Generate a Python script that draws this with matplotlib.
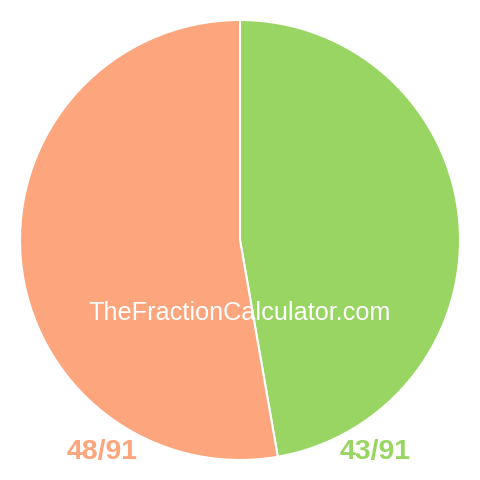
import matplotlib.pyplot as plt

fractions = ["43/91", "48/91"]
counts = [43, 48]
colors = ["#99d562", "#fda57c"]

plt.rcParams['font.family'] = ['Liberation Sans', 'DejaVu Sans']

fig = plt.figure(figsize=(4.8, 4.8), dpi=100)
ax = fig.add_axes([0, 0, 1, 1])
ax.pie(counts, colors=colors, startangle=90, counterclock=False, radius=220,
       wedgeprops=dict(edgecolor='white', linewidth=1.5))
ax.set_xlim(-240, 240)
ax.set_ylim(-240, 240)
ax.set_aspect('equal')
ax.axis('off')

ax.text(0, -73, "TheFractionCalculator.com", color='white', fontsize=18.2,
        ha='center', va='center')
ax.text(-138, -212, fractions[1], color=colors[1], fontsize=20.5, fontweight='bold',
        ha='center', va='center')
ax.text(135, -212, fractions[0], color=colors[0], fontsize=20.5, fontweight='bold',
        ha='center', va='center')

fig.savefig("out.png", dpi=100)
